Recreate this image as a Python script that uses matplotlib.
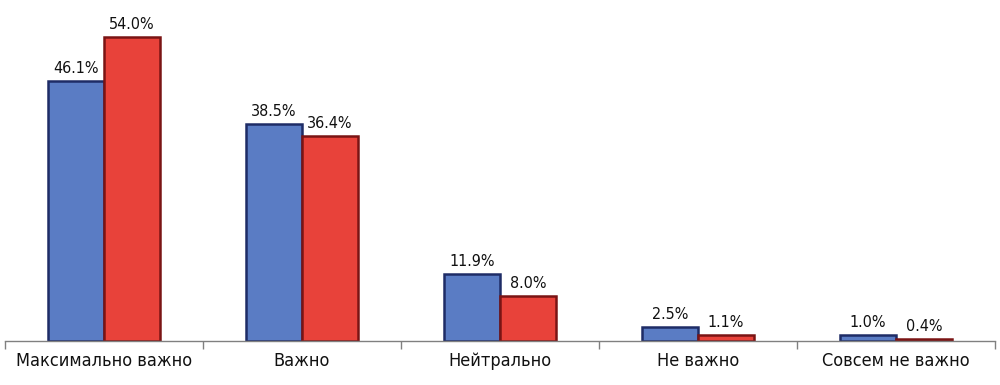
import matplotlib
matplotlib.use("Agg")
import matplotlib.pyplot as plt
import numpy as np

categories = ["Максимально важно", "Важно", "Нейтрально", "Не важно", "Совсем не важно"]
series_a = [46.1, 38.5, 11.9, 2.5, 1.0]
series_b = [54.0, 36.4, 8.0, 1.1, 0.4]

plt.rcParams['font.family'] = ['DejaVu Sans']
plt.rcParams['font.stretch'] = 'condensed'

fig = plt.figure(figsize=(10, 3.85), dpi=100)
ax = fig.add_axes([0.005, 0.114, 0.99, 0.842])

x = np.arange(len(categories))
w = 0.283
ax.bar(x - w/2, series_a, w, color="#5A7CC4", edgecolor="#1E2C66", linewidth=1.8)
ax.bar(x + w/2, series_b, w, color="#E8423A", edgecolor="#7A1414", linewidth=1.8)

for xi, v in zip(x - w/2, series_a):
    ax.text(xi, v + 0.9, f"{v:.1f}%", ha="center", va="bottom", fontsize=11.5,
            fontstretch='condensed', color="#111111")
for xi, v in zip(x + w/2, series_b):
    ax.text(xi, v + 0.9, f"{v:.1f}%", ha="center", va="bottom", fontsize=11.5,
            fontstretch='condensed', color="#111111")

ax.set_xlim(-0.5, len(categories) - 0.5)
ax.set_ylim(0, 57.5)
ax.set_yticks([])
for s in ["top", "right", "left"]:
    ax.spines[s].set_visible(False)
ax.spines["bottom"].set_color("#808080")
ax.spines["bottom"].set_linewidth(1)

ax.set_xticks(x)
ax.set_xticklabels(categories, fontsize=13, fontstretch='condensed', color="#111111")
ax.tick_params(axis="x", which="major", length=0, pad=8)
ax.set_xticks(np.arange(-0.5, len(categories)), minor=True)
ax.tick_params(axis="x", which="minor", length=6, color="#808080", width=1)

fig.savefig("out.png", dpi=100)
